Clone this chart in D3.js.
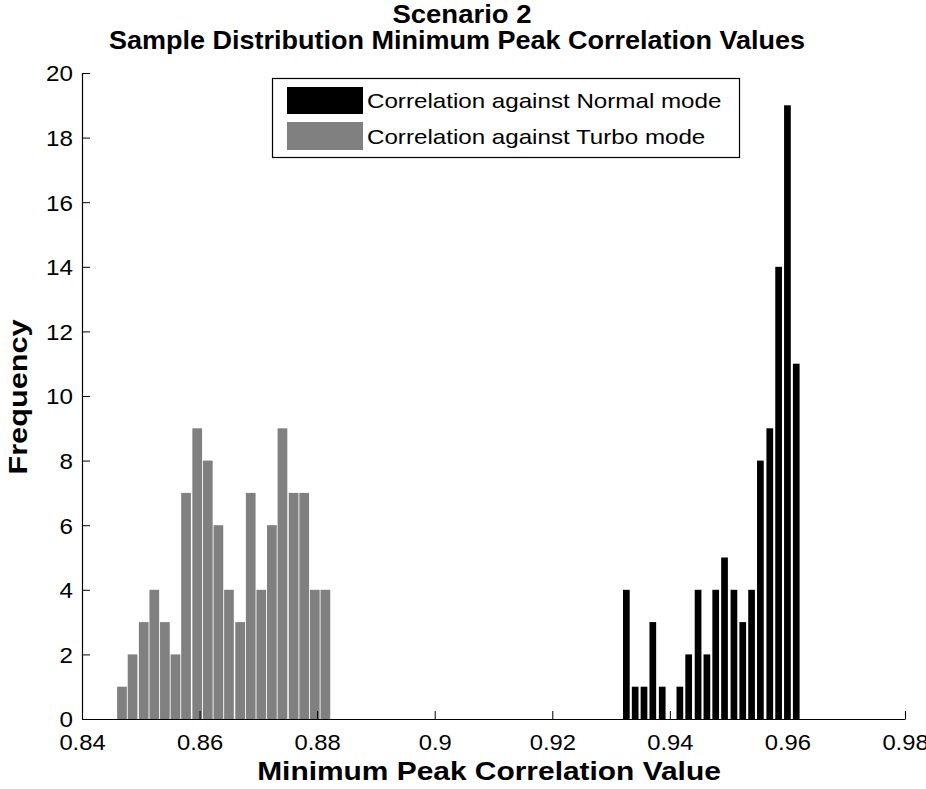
<!DOCTYPE html>
<html><head><meta charset="utf-8">
<script src="https://cdn.jsdelivr.net/npm/d3@7"></script>
<style>
body{margin:0;background:#fff;}
svg{display:block;font-family:"Liberation Sans",Arial,sans-serif;}
</style></head>
<body><svg id="c" width="926" height="789"></svg>
<script>
// ---- data ----
const normalBins = [0.9326,0.9341,0.9356,0.9371,0.9387,0.9402,0.9417,0.9432,0.9448,0.9463,0.9478,0.9493,0.9509,0.9524,0.9539,0.9554,0.9570,0.9585,0.9600,0.9615];
const normalCounts = [4,1,1,3,1,0,1,2,4,2,4,5,4,3,4,8,9,14,19,11];
const turboBins = [0.8468,0.8486,0.8505,0.8523,0.8541,0.8559,0.8577,0.8596,0.8614,0.8632,0.8650,0.8669,0.8687,0.8705,0.8723,0.8741,0.8760,0.8778,0.8796,0.8814];
const turboCounts = [1,2,3,4,3,2,7,9,8,6,4,3,7,4,6,9,7,7,4,4];
const xTicks = [0.84,0.86,0.88,0.90,0.92,0.94,0.96,0.98];
const xTickLabels = ["0.84","0.86","0.88","0.9","0.92","0.94","0.96","0.98"];
const yTicks = [0,2,4,6,8,10,12,14,16,18,20];
const seriesNames = ["Correlation against Normal mode","Correlation against Turbo mode"];
const titleLines = ["Scenario 2","Sample Distribution Minimum Peak Correlation Values"];
const xLabel = "Minimum Peak Correlation Value";
const yLabel = "Frequency";

// ---- layout ----
const L=82, R=905, T=73, B=719;
const svg = d3.select("#c");
const x = d3.scaleLinear().domain([0.84,0.98]).range([L,R]);
const y = d3.scaleLinear().domain([0,20]).range([B,T]);
const turboW = 0.001823, normalW = 0.00114;

function stretch(sel,k){
  sel.each(function(){
    const w=this.getComputedTextLength();
    d3.select(this).attr("textLength",w*k).attr("lengthAdjust","spacingAndGlyphs");
  });
}

const turbo = turboBins.map((b,i)=>({b,c:turboCounts[i]}));
const normal = normalBins.map((b,i)=>({b,c:normalCounts[i]}));

svg.append("g").selectAll("rect").data(turbo.filter(d=>d.c>0)).join("rect")
  .attr("x",d=>x(d.b-turboW/2)+0.5)
  .attr("width",d=>x(d.b+turboW/2)-x(d.b-turboW/2)-1)
  .attr("y",d=>y(d.c)).attr("height",d=>y(0)-y(d.c))
  .attr("fill","#808080");

svg.append("g").selectAll("rect").data(normal.filter(d=>d.c>0)).join("rect")
  .attr("x",d=>x(d.b-normalW/2))
  .attr("width",d=>x(d.b+normalW/2)-x(d.b-normalW/2))
  .attr("y",d=>y(d.c)).attr("height",d=>y(0)-y(d.c))
  .attr("fill","#000");

// axes
const xa = svg.append("g").attr("transform",`translate(0,${B})`)
  .call(d3.axisBottom(x).tickValues(xTicks).tickSizeInner(-8).tickSizeOuter(0)
    .tickFormat((d,i)=>xTickLabels[i]));
const ya = svg.append("g").attr("transform",`translate(${L},0)`)
  .call(d3.axisLeft(y).tickValues(yTicks).tickSizeInner(-8).tickSizeOuter(0));
[xa,ya].forEach(a=>{
  a.selectAll("path").attr("stroke","#000").attr("stroke-width",1.2);
  a.selectAll("line").attr("stroke","#000");
  a.selectAll("text").attr("font-family","Liberation Sans, Arial, sans-serif").attr("font-size",22).attr("fill","#000");
});
xa.selectAll("text").attr("y",31).attr("dy",0);
ya.selectAll("text").attr("x",-9).attr("dy","0.36em");
stretch(xa.selectAll("text"),1.08);
stretch(ya.selectAll("text"),1.1);

// titles
const t1 = svg.append("text").attr("x",462).attr("y",23).attr("text-anchor","middle")
  .attr("font-size",25).attr("font-weight","bold").text(titleLines[0]);
const t2 = svg.append("text").attr("x",457).attr("y",49).attr("text-anchor","middle")
  .attr("font-size",25).attr("font-weight","bold").text(titleLines[1]);
const xl = svg.append("text").attr("x",489).attr("y",780).attr("text-anchor","middle")
  .attr("font-size",26).attr("font-weight","bold").text(xLabel);
const yl = svg.append("text").attr("transform","translate(27,397) rotate(-90)").attr("text-anchor","middle")
  .attr("font-size",26).attr("font-weight","bold").text(yLabel);
stretch(t1,1.1); stretch(t2,1.08); stretch(xl,1.15); stretch(yl,1.18);

// legend
const lg = svg.append("g");
lg.append("rect").attr("x",272.5).attr("y",78.5).attr("width",467).attr("height",79)
  .attr("fill","#fff").attr("stroke","#000").attr("stroke-width",1.2);
const lcol = ["#000","#808080"];
const ly = [87,122];
seriesNames.forEach((n,i)=>{
  lg.append("rect").attr("x",287).attr("y",ly[i]).attr("width",76).attr("height",i?28:27).attr("fill",lcol[i]);
  const t = lg.append("text").attr("x",367).attr("y",[108,144][i]).attr("font-size",21).text(n);
  stretch(t,1.15);
});
</script></body></html>
